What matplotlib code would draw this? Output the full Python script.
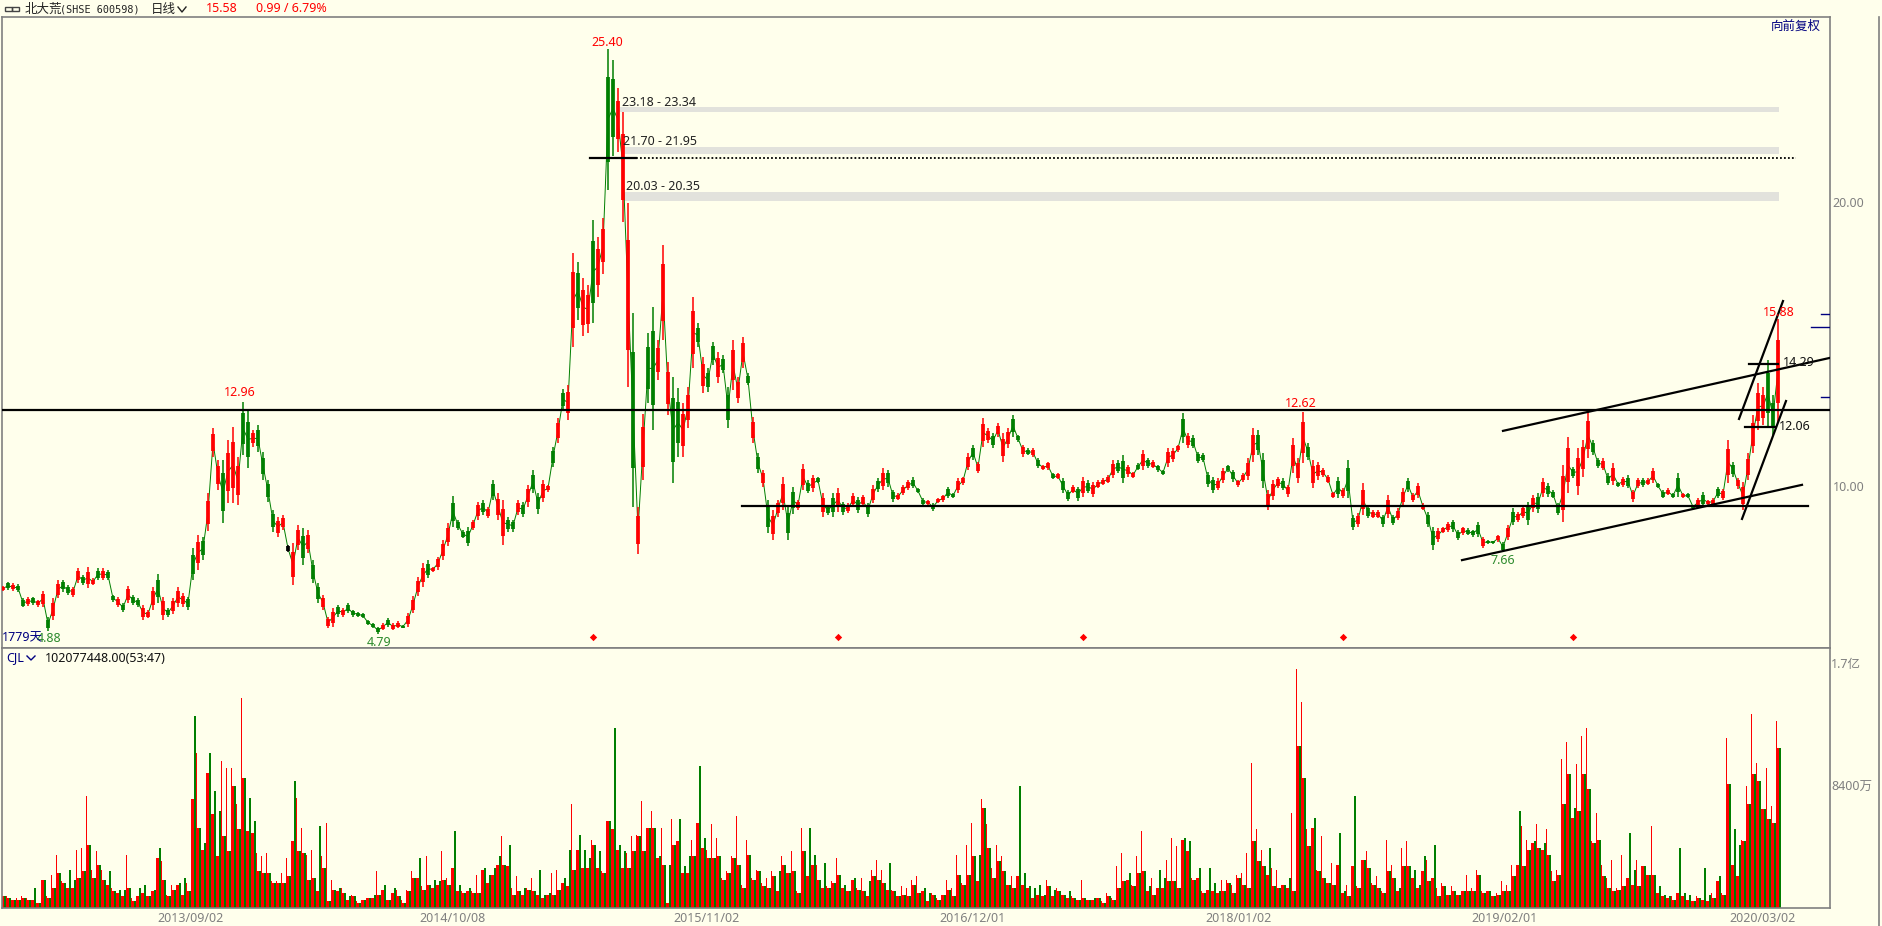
import matplotlib
matplotlib.use("Agg")
import matplotlib.pyplot as plt
import numpy as np

W, H = 1883, 926
BG = "#FFFFEC"
GREY = "#808080"
NAVY = "#000080"
RED = "#FF0000"
GREEN = "#007F00"
plt.rcParams["font.family"] = ["Noto Sans", "Noto Sans CJK SC", "DejaVu Sans"]

# one bar per 5 pixels of the picture, high / low of that slice
high = [
    6.48, 6.63, 6.57, 6.55, 6.04, 6.1, 6.1, 6.0, 6.31, 5.4,
    6.04, 6.69, 6.69, 6.51, 6.45, 7.1, 6.86, 7.13, 6.75, 7.1,
    7.1, 7.04, 6.16, 6.1, 5.87, 6.48, 6.16, 6.04, 5.81, 5.63,
    6.45, 6.9, 6.1, 5.69, 6.04, 6.45, 6.22, 6.1, 7.8, 8.27,
    8.21, 9.74, 12.03, 10.91, 10.91, 11.62, 12.09, 11.03, 12.96, 12.67,
    11.97, 12.15, 11.2, 10.21, 9.15, 8.92, 8.98, 7.92, 7.98, 8.62,
    8.51, 8.45, 7.39, 6.57, 6.16, 5.4, 5.7, 5.81, 5.7, 5.87,
    5.64, 5.58, 5.52, 5.28, 5.17, 5.05, 5.17, 5.34, 5.17, 5.23,
    5.11, 5.52, 6.11, 6.81, 7.28, 7.4, 7.16, 7.51, 8.1, 8.69,
    9.63, 8.8, 8.45, 8.57, 8.8, 9.45, 9.51, 9.27, 10.21, 9.74,
    9.5, 8.92, 8.8, 9.5, 9.44, 10.03, 10.56, 9.74, 10.21, 10.03,
    11.38, 12.38, 13.43, 13.55, 18.19, 17.9, 17.31, 17.07, 19.36, 18.78,
    19.42, 25.4, 25.0, 24.0, 23.18, 19.95, 16.08, 9.27, 12.55, 15.37,
    16.31, 15.14, 18.48, 14.37, 13.85, 13.44, 12.91, 13.49, 16.66, 15.72,
    14.55, 14.14, 15.08, 14.73, 14.61, 13.49, 15.14, 13.85, 15.25, 13.96,
    12.44, 11.15, 10.56, 9.5, 9.15, 9.5, 10.32, 9.27, 9.97, 9.5,
    10.79, 10.21, 10.38, 10.32, 9.74, 9.33, 9.74, 9.92, 9.45, 9.39,
    9.74, 9.62, 9.68, 9.39, 10.03, 10.27, 10.62, 10.56, 9.86, 9.74,
    10.03, 10.21, 10.3, 9.92, 9.57, 9.51, 9.39, 9.57, 9.68, 9.98,
    9.74, 10.27, 10.33, 11.15, 11.44, 10.86, 12.38, 12.03, 11.85, 12.2,
    11.85, 12.03, 12.5, 11.8, 11.44, 11.33, 11.33, 10.97, 10.74, 10.86,
    10.45, 10.45, 10.27, 9.86, 10.03, 9.98, 10.3, 10.21, 10.15, 10.21,
    10.27, 10.39, 10.91, 10.91, 11.09, 10.74, 10.5, 10.8, 11.27, 10.97,
    10.91, 10.74, 10.56, 11.33, 11.33, 11.44, 12.56, 11.85, 11.8, 11.21,
    11.15, 10.5, 10.33, 10.27, 10.62, 10.74, 10.56, 10.21, 10.45, 10.97,
    12.03, 11.97, 11.15, 9.86, 10.21, 10.33, 10.27, 10.03, 11.68, 10.97,
    12.62, 11.5, 10.91, 10.86, 10.62, 10.39, 9.8, 10.33, 9.92, 10.91,
    8.98, 9.04, 10.09, 9.33, 9.15, 9.15, 8.98, 9.68, 8.98, 9.21,
    9.92, 10.27, 9.74, 10.09, 9.39, 9.1, 8.57, 8.51, 8.57, 8.74,
    8.8, 8.45, 8.57, 8.51, 8.45, 8.74, 8.22, 8.1, 8.07, 8.27,
    8.04, 8.63, 9.21, 9.1, 9.33, 9.45, 9.68, 9.74, 10.27, 10.09,
    9.86, 9.39, 10.74, 11.74, 10.68, 11.33, 11.62, 12.62, 11.62, 10.97,
    10.97, 10.45, 10.8, 10.15, 10.33, 10.39, 9.86, 10.27, 10.27, 10.27,
    10.62, 10.09, 9.86, 9.92, 9.74, 10.45, 9.74, 9.74, 9.33, 9.57,
    9.8, 9.51, 9.57, 9.98, 9.91, 11.62, 10.85, 10.27, 10.15, 11.15,
    12.5, 13.61, 13.49, 14.43, 13.2, 15.88,
]
low = [
    6.31, 6.34, 6.31, 6.28, 5.73, 5.77, 5.81, 5.75, 5.75, 4.88,
    5.28, 6.04, 6.28, 6.16, 6.1, 6.57, 6.51, 6.4, 6.51, 6.69,
    6.69, 6.69, 5.93, 5.75, 5.57, 5.87, 5.81, 5.75, 5.28, 5.34,
    5.63, 5.87, 5.28, 5.4, 5.51, 5.75, 5.75, 5.63, 6.69, 7.04,
    7.39, 8.4, 11.03, 9.86, 8.68, 9.39, 9.39, 9.33, 11.09, 10.62,
    11.38, 11.2, 10.21, 9.45, 8.39, 8.21, 8.45, 7.68, 6.5, 7.74,
    7.22, 7.63, 6.57, 5.87, 5.64, 4.99, 5.05, 5.4, 5.4, 5.52,
    5.4, 5.4, 5.34, 5.11, 4.99, 4.79, 4.93, 5.05, 4.93, 4.99,
    4.99, 5.05, 5.52, 6.11, 6.46, 6.75, 6.98, 7.04, 7.4, 7.87,
    8.57, 8.45, 8.16, 7.87, 8.45, 8.8, 8.98, 8.86, 9.51, 8.8,
    7.92, 8.39, 8.39, 8.97, 8.92, 9.27, 9.74, 9.03, 9.44, 9.8,
    10.68, 11.5, 12.67, 12.32, 14.9, 15.84, 15.27, 15.37, 15.72, 16.66,
    17.48, 20.42, 21.6, 21.77, 19.3, 13.49, 9.27, 7.62, 10.2, 12.91,
    11.97, 13.73, 15.14, 12.5, 10.09, 11.03, 11.03, 12.03, 14.14, 14.9,
    13.26, 13.32, 14.26, 13.61, 13.96, 12.03, 13.38, 12.91, 14.14, 13.55,
    11.5, 10.44, 9.97, 8.33, 8.1, 8.92, 9.15, 8.1, 9.03, 9.15,
    9.86, 9.74, 9.8, 10.09, 8.92, 8.98, 8.92, 9.1, 8.98, 9.04,
    9.27, 9.04, 9.27, 8.92, 9.39, 9.8, 9.86, 9.98, 9.45, 9.51,
    9.68, 9.86, 9.92, 9.74, 9.33, 9.33, 9.13, 9.39, 9.45, 9.57,
    9.57, 9.74, 10.03, 10.56, 10.92, 10.45, 11.38, 11.5, 11.33, 11.74,
    10.86, 11.33, 11.74, 11.56, 11.03, 11.09, 11.03, 10.62, 10.56, 10.56,
    10.23, 10.23, 9.74, 9.48, 9.74, 9.48, 9.62, 9.74, 9.62, 9.92,
    10.03, 10.09, 10.27, 10.45, 10.09, 10.33, 10.27, 10.56, 10.56, 10.62,
    10.62, 10.5, 10.39, 10.68, 10.86, 11.21, 11.5, 11.33, 11.33, 10.8,
    10.86, 9.98, 9.74, 9.86, 10.09, 10.5, 10.15, 9.98, 10.15, 10.21,
    10.86, 11.09, 9.92, 9.15, 9.51, 9.92, 9.86, 9.62, 10.45, 10.09,
    10.8, 10.91, 9.92, 10.21, 10.33, 10.09, 9.57, 9.57, 9.57, 9.57,
    8.45, 8.57, 8.98, 8.86, 8.86, 8.86, 8.57, 8.86, 8.63, 8.8,
    9.33, 9.8, 9.45, 9.57, 9.15, 8.57, 7.75, 8.04, 8.33, 8.39,
    8.39, 8.1, 8.27, 8.27, 8.22, 8.22, 7.8, 7.96, 7.96, 8.04,
    7.66, 8.1, 8.63, 8.74, 8.86, 8.63, 9.1, 9.04, 9.62, 9.62,
    9.57, 8.98, 8.74, 9.74, 10.27, 9.68, 10.33, 10.97, 11.09, 10.62,
    10.56, 10.03, 10.03, 9.98, 9.98, 9.92, 9.45, 9.92, 9.98, 10.03,
    10.09, 9.92, 9.57, 9.68, 9.57, 9.62, 9.57, 9.57, 9.21, 9.27,
    9.27, 9.33, 9.33, 9.57, 9.5, 10.09, 10.33, 9.91, 9.15, 10.21,
    11.15, 11.97, 12.14, 12.09, 11.79, 12.2,
]
# r = closed up, g = closed down, k = flat
bar_kind = "".join([
    "rgrggrgrrg", "rrggrrgrrg", "rggrgrggrr", "rgrgrrrggr", "grrrgrrrgg", "rggggrrkrr",
    "grggrrrgrg", "ggggggrgrr", "grrrrgrrrr", "ggggrrgrgr", "rggrgrggrr", "grgrrgrrgr",
    "rggrrrgrrg", "grrrggrrrg", "rggrggrrrg", "rgrgrrrggr", "rgrgrggrgr", "rgrgrgrggr",
    "rrgggrgrrg", "grrrgrrrgr", "rrggrgrgrr", "grggrgrgrr", "rrrggrrgrg", "rggrrrgrgg",
    "gggrrggrrr", "rggrrrgrrr", "rgrrrrrgrg", "grrgrrgrgr", "rgrrrggrrr", "ggrgggrggr",
    "grgrrgrgrg", "ggrrgrrrgg", "rgrgrgrrgr", "rggrggrggr", "grrgrrgrrr", "rrrggr",
])

# volume, in steps of VOL_STEP (万股): red and green peak inside each slice
VOL_STEP = 23
vol_red = [
    35, 35, 25, 30, 35, 30, 25, 15, 85, 35,
    100, 160, 80, 60, 60, 175, 180, 335, 115, 170,
    115, 70, 60, 45, 35, 160, 30, 35, 45, 35,
    50, 150, 140, 40, 70, 70, 40, 75, 325, 465,
    175, 405, 280, 155, 440, 420, 418, 310, 630, 230,
    225, 165, 155, 165, 80, 80, 105, 150, 200, 330,
    240, 160, 175, 50, 155, 255, 85, 50, 60, 25,
    40, 20, 25, 30, 30, 110, 55, 25, 45, 55,
    25, 55, 110, 90, 65, 155, 60, 70, 170, 90,
    120, 50, 50, 50, 50, 100, 115, 75, 100, 130,
    215, 125, 60, 95, 40, 60, 90, 40, 30, 40,
    105, 115, 75, 65, 310, 175, 120, 120, 205, 120,
    110, 260, 235, 175, 120, 165, 215, 220, 320, 240,
    290, 150, 240, 15, 265, 200, 105, 105, 205, 255,
    180, 175, 250, 210, 90, 110, 155, 275, 70, 205,
    90, 115, 75, 90, 110, 50, 155, 105, 170, 50,
    240, 95, 130, 130, 60, 65, 80, 150, 60, 50,
    85, 60, 90, 35, 115, 145, 115, 55, 55, 35,
    65, 60, 85, 95, 50, 20, 45, 30, 40, 85,
    60, 160, 75, 190, 255, 80, 325, 250, 120, 190,
    155, 70, 95, 95, 70, 60, 30, 40, 35, 85,
    35, 60, 40, 30, 35, 25, 85, 25, 25, 30,
    20, 45, 30, 125, 165, 85, 70, 155, 230, 50,
    90, 60, 60, 145, 210, 185, 205, 170, 90, 90,
    50, 55, 50, 45, 85, 85, 70, 100, 105, 165,
    435, 235, 175, 100, 120, 115, 70, 60, 285, 716,
    618, 235, 240, 115, 215, 75, 135, 130, 45, 70,
    125, 65, 145, 170, 75, 95, 50, 205, 130, 50,
    180, 200, 90, 60, 110, 145, 90, 60, 75, 40,
    65, 40, 50, 100, 60, 115, 50, 50, 35, 45,
    80, 70, 130, 130, 245, 205, 195, 250, 175, 235,
    110, 115, 445, 498, 270, 430, 515, 540, 200, 283,
    130, 90, 145, 60, 160, 90, 70, 145, 125, 100,
    245, 45, 35, 30, 35, 45, 35, 25, 20, 35,
    25, 20, 45, 80, 45, 510, 130, 95, 205, 365,
    580, 435, 295, 418, 305, 560,
]
vol_green = [
    35, 30, 25, 25, 30, 25, 60, 15, 85, 30,
    60, 105, 75, 115, 85, 90, 110, 190, 90, 130,
    85, 110, 50, 55, 55, 60, 20, 60, 70, 35,
    55, 180, 85, 35, 55, 75, 90, 50, 575, 240,
    195, 465, 350, 290, 215, 170, 365, 235, 390, 330,
    260, 110, 105, 105, 75, 75, 75, 95, 380, 170,
    165, 85, 90, 245, 120, 20, 55, 60, 45, 35,
    35, 15, 25, 30, 40, 40, 70, 25, 60, 35,
    15, 50, 90, 150, 55, 70, 85, 80, 85, 70,
    230, 70, 45, 60, 45, 45, 120, 100, 120, 155,
    130, 190, 40, 50, 60, 55, 50, 115, 40, 45,
    40, 55, 90, 175, 115, 220, 175, 150, 190, 170,
    105, 260, 540, 190, 170, 120, 170, 215, 170, 240,
    240, 155, 130, 130, 190, 265, 125, 155, 155, 425,
    210, 150, 150, 155, 85, 105, 150, 130, 60, 160,
    85, 110, 65, 60, 95, 110, 130, 105, 110, 45,
    170, 240, 160, 85, 135, 60, 75, 100, 70, 50,
    90, 55, 50, 80, 95, 85, 75, 135, 50, 35,
    40, 35, 70, 45, 60, 45, 40, 25, 40, 55,
    35, 100, 70, 100, 155, 160, 300, 180, 90, 140,
    110, 70, 60, 365, 105, 65, 60, 70, 40, 65,
    55, 50, 40, 50, 30, 25, 30, 25, 30, 30,
    15, 35, 25, 60, 80, 105, 65, 105, 110, 65,
    40, 115, 90, 80, 80, 60, 210, 200, 85, 120,
    45, 120, 75, 50, 50, 75, 45, 90, 70, 60,
    200, 140, 125, 180, 65, 60, 70, 90, 50, 485,
    390, 185, 270, 110, 90, 75, 70, 225, 50, 35,
    335, 60, 145, 120, 70, 60, 45, 110, 90, 60,
    125, 125, 115, 70, 155, 80, 190, 35, 65, 40,
    50, 40, 50, 50, 50, 100, 45, 50, 35, 40,
    50, 50, 95, 290, 125, 175, 200, 180, 195, 160,
    80, 100, 310, 400, 300, 290, 400, 355, 195, 205,
    95, 60, 50, 55, 65, 225, 115, 65, 125, 100,
    100, 65, 40, 35, 25, 180, 45, 40, 20, 30,
    120, 40, 30, 95, 40, 370, 235, 190, 200, 310,
    400, 380, 295, 265, 255, 480,
]

date_pos = [37.4, 90, 140.8, 194, 247.2, 300.2, 351.8]
date_labels = ["2013/09/02", "2014/10/08", "2015/11/02", "2016/12/01", "2018/01/02", "2019/02/01", "2020/03/02"]
price_ticks = [10, 20]
vol_ticks = [8400, 16900]
vol_tick_labels = ["8400万", "1.7亿"]

# price zones: start, end, low, high
zones = [(123.4, 355.2, 23.18, 23.34), (123.6, 355.2, 21.70, 21.95), (124.2, 355.2, 20.03, 20.35)]
# drawn lines: x0, p0, x1, p1
trend_lines = [
    (-0.2, 12.68, 365.4, 12.68),
    (147.8, 9.30, 361, 9.30),
    (117.4, 21.56, 126.6, 21.56),
    (300, 11.94, 365.4, 14.51),
    (291.8, 7.39, 359.8, 10.04),
    (347.2, 12.36, 356, 16.51),
    (347.8, 8.84, 356.6, 12.99),
    (349.2, 14.29, 355, 14.29),
    (348.4, 12.06, 354.4, 12.06),
]
dotted_line = (126.6, 21.56, 358.6, 21.56)
side_marks = [(363.6, 16.06), (361.6, 15.6), (363.6, 13.13)]
diamond_pos = [118, 167, 216, 268, 314]
diamond_price = 4.7


def px_box(x0, y0, x1, y1):
    return [x0 / W, 1 - y1 / H, (x1 - x0) / W, (y1 - y0) / H]


def label(x, y, s, **kw):
    kw.setdefault("va", "center")
    kw.setdefault("fontsize", 9)
    fig.text(x / W, 1 - y / H, s, **kw)


fig = plt.figure(figsize=(W / 100, H / 100), dpi=100, facecolor=BG)
ax = fig.add_axes(px_box(2, 17, 1830, 648), facecolor=BG)
ax_v = fig.add_axes(px_box(2, 648, 1830, 908), facecolor=BG)

pos = np.arange(len(high))
hi = np.array(high)
lo = np.array(low)
colour = {"r": RED, "g": GREEN, "k": "black"}
bar_cols = [colour[c] for c in bar_kind]

# thin line through the slices so they read as one run of days, then wick and body
ax.plot(pos, (hi + lo) / 2, color=GREEN, lw=0.7, zorder=2)
ax.vlines(pos, lo, hi, colors=bar_cols, lw=1.1, zorder=3)
span = hi - lo
ax.vlines(pos, lo + span * 0.2, hi - span * 0.2, colors=bar_cols, lw=2.7, zorder=3)

for x0, x1, p0, p1 in zones:
    ax.fill_between([x0, x1], p0, p1, color="#E2E2DC", lw=0, zorder=1)
for x0, p0, x1, p1 in trend_lines:
    ax.plot([x0, x1], [p0, p1], color="black", lw=1.6, zorder=4)
ax.plot(dotted_line[::2], dotted_line[1::2], color="black", lw=1.3, ls=(0, (1, 1.2)), zorder=4)
for x0, p in side_marks:
    ax.plot([x0, 365.4], [p, p], color=NAVY, lw=1, zorder=4)
ax.scatter(diamond_pos, [diamond_price] * len(diamond_pos), marker="D", s=14, color=RED, lw=0, zorder=4)

ax.set_xlim(-0.2, 365.4)
ax.set_ylim(4.296, 26.51)
ax.set_xticks([])
ax.yaxis.tick_right()
ax.set_yticks(price_ticks)
ax.set_yticklabels(["%.2f" % t for t in price_ticks], color=GREY, fontsize=9, fontweight="bold")
ax.tick_params(axis="y", length=0, pad=2)

# mass of the slice up to the lower of the two peaks, thin spikes above it
red_v = np.array(vol_red) * VOL_STEP
green_v = np.array(vol_green) * VOL_STEP
body = np.minimum(red_v, green_v)
ax_v.bar(pos - 0.125, body, width=0.75, color=RED, lw=0)
ax_v.bar(pos - 0.3, red_v, width=0.25, color=RED, lw=0)
ax_v.bar(pos + 0.375, green_v, width=0.25, color=GREEN, lw=0)
ax_v.set_xlim(-0.2, 365.4)
ax_v.set_ylim(0, 17900)
ax_v.set_xticks(date_pos)
ax_v.set_xticklabels(date_labels, color=GREY, fontsize=9)
ax_v.yaxis.tick_right()
ax_v.set_yticks(vol_ticks)
ax_v.set_yticklabels(vol_tick_labels, color=GREY, fontsize=9)
ax_v.tick_params(axis="x", length=0, pad=3)
ax_v.tick_params(axis="y", length=0, pad=1)

for a in (ax, ax_v):
    for s in a.spines.values():
        s.set_color(GREY)
        s.set_linewidth(1.2)

# outer frame line on the far right
fig.add_artist(plt.Line2D([1879 / W, 1879 / W], [0, 1 - 17 / H], color=GREY, lw=1.2))

# header
fig.add_artist(plt.Rectangle((5 / W, 1 - 11 / H), 7 / W, 4 / H, fill=False, ec="#444444", lw=1))
fig.add_artist(plt.Rectangle((12 / W, 1 - 11 / H), 7 / W, 4 / H, fill=False, ec="#444444", lw=1))
label(25, 9, "北大荒", fontsize=9, color="#222222")
label(60, 9, "(SHSE 600598)", fontsize=7.3, family="DejaVu Sans Mono", color="#222222")
label(151, 9, "日线", fontsize=9, color="#222222")
fig.add_artist(plt.Line2D([178 / W, 182 / W, 186 / W], [1 - 7 / H, 1 - 12 / H, 1 - 7 / H], color="#222222", lw=1))
label(206, 8, "15.58", color=RED)
label(256, 8, "0.99 / 6.79%", color=RED)
label(1771, 26, "向前复权", color=NAVY, fontsize=9)

# price labels
label(607, 43, "25.40", color=RED, ha="center")
label(240, 393, "12.96", color=RED, ha="center")
label(1301, 403, "12.62", color=RED, ha="center")
label(1779, 312, "15.88", color=RED, ha="center")
label(379, 642, "4.79", color="#2E8B2E", ha="center")
label(1503, 560, "7.66", color="#2E8B2E", ha="center")
label(37, 638, "4.88", color="#2E8B2E")
label(2, 638, "1779天", color=NAVY)
label(1783, 363, "14.29", color="#111111")
label(1779, 427, "12.06", color="#111111")
label(622, 102, "23.18 - 23.34", color="#222222")
label(623, 141, "21.70 - 21.95", color="#222222")
label(626, 186, "20.03 - 20.35", color="#222222")

# volume header
label(6, 658, "CJL", color=NAVY)
fig.add_artist(plt.Line2D([27 / W, 31 / W, 35 / W], [1 - 656 / H, 1 - 660 / H, 1 - 656 / H], color=NAVY, lw=1))
label(45, 658, "102077448.00(53:47)", color="#111111")

fig.savefig("out.png", dpi=100, facecolor=BG)
